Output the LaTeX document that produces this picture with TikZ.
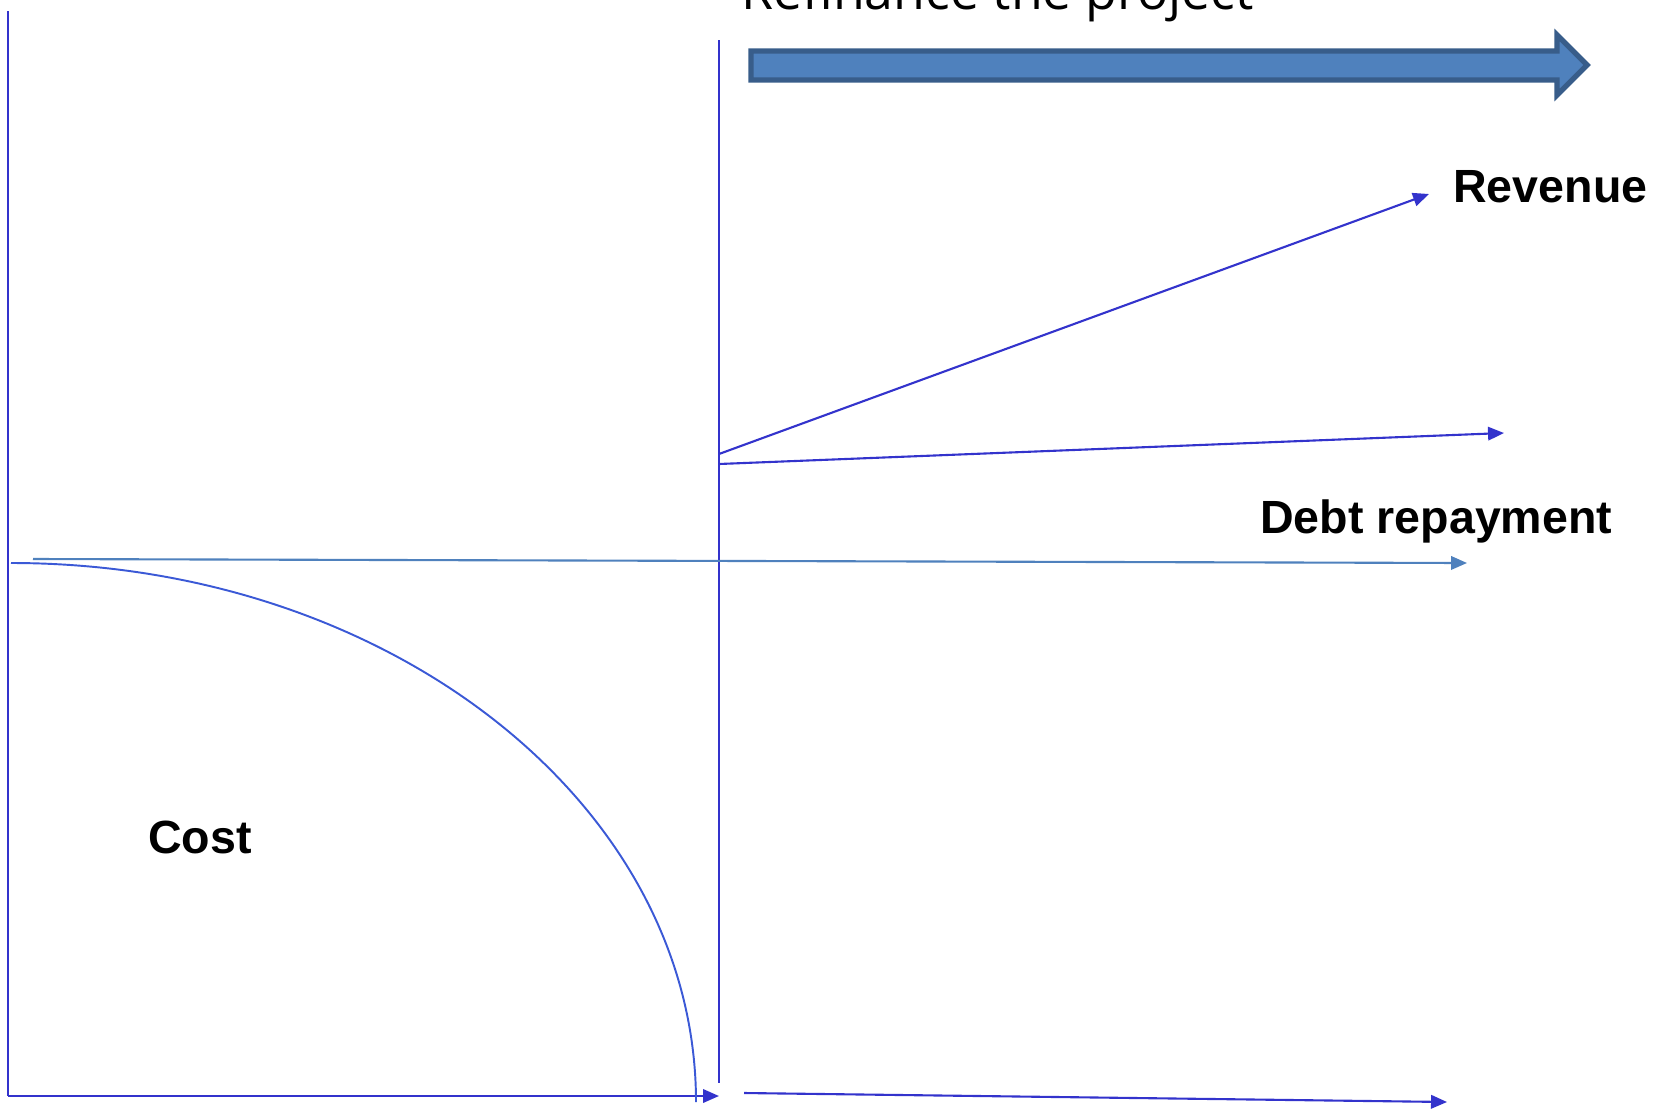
\documentclass[tikz,border=0pt]{standalone}
\usepackage{fontspec}
\setmainfont{Liberation Sans}
\newfontfamily\titolofont{Open Sans}
\usetikzlibrary{arrows.meta}
\definecolor{bluLinea}{RGB}{51,51,204}
\definecolor{bluCurva}{RGB}{59,89,214}
\definecolor{bluAcciaio}{RGB}{79,129,189}
\definecolor{bluBordo}{RGB}{56,93,138}

\begin{document}
\begin{tikzpicture}[x=0.02cm, y=-0.02cm,
	freccia/.style={draw=bluLinea, line width=1.2pt, -{Triangle[length=0.32cm, width=0.27cm]}},
	etichetta/.style={font=\bfseries\fontsize{26.5}{30}\selectfont, inner sep=0pt, anchor=base west}]
	\useasboundingbox (0,0) rectangle (1662,1112);
	
	% Punti
	\coordinate (asseTop) at (8,11);
	\coordinate (origine) at (8,1096);
	\coordinate (asseFine) at (719,1096);
	\coordinate (divTop) at (719,40);
	\coordinate (divBot) at (719,1083);
	\coordinate (revInizio) at (719,454);
	\coordinate (revFine) at (1429,194);
	\coordinate (secInizio) at (719,464);
	\coordinate (secFine) at (1504,433);
	\coordinate (debInizio) at (33,559);
	\coordinate (debFine) at (1467,563);
	\coordinate (basInizio) at (744,1093);
	\coordinate (basFine) at (1447,1102);
	\coordinate (curvaInizio) at (11,563);
	\coordinate (curvaFine) at (696,1102);
	
	% Assi e divisore
	\draw[bluLinea, line width=1pt] (asseTop) -- (origine);
	\draw[freccia] (origine) -- (asseFine);
	\draw[bluLinea, line width=1pt] (divTop) -- (divBot);
	
	% Curva del costo
	\draw[bluCurva, line width=1.1pt] (curvaInizio) .. controls +(378,0) and +(0,-298) .. (curvaFine);
	
	% Frecce dopo il rifinanziamento
	\draw[freccia] (revInizio) -- (revFine);
	\draw[freccia] (secInizio) -- (secFine);
	\draw[freccia, draw=bluAcciaio, fill=bluAcciaio] (debInizio) -- (debFine);
	\draw[freccia] (basInizio) -- (basFine);
	
	% Freccia grande
	\draw[fill=bluAcciaio, draw=bluBordo, line width=3pt, line join=miter]
		(751,51) -- (1557,51) -- (1557,35) -- (1587,65) -- (1557,95) -- (1557,80) -- (751,80) -- cycle;
	
	% Testi
	\node[anchor=base west, inner sep=0pt, font=\titolofont\fontsize{29.5}{33}\selectfont] (titolo) at (741,10) {Refinance the project};
	\node[etichetta] (ricavi) at (1453,202) {Revenue};
	\node[etichetta] (debito) at (1260,533) {Debt repayment};
	\node[etichetta] (costo) at (148,853) {Cost};
\end{tikzpicture}
\end{document}
